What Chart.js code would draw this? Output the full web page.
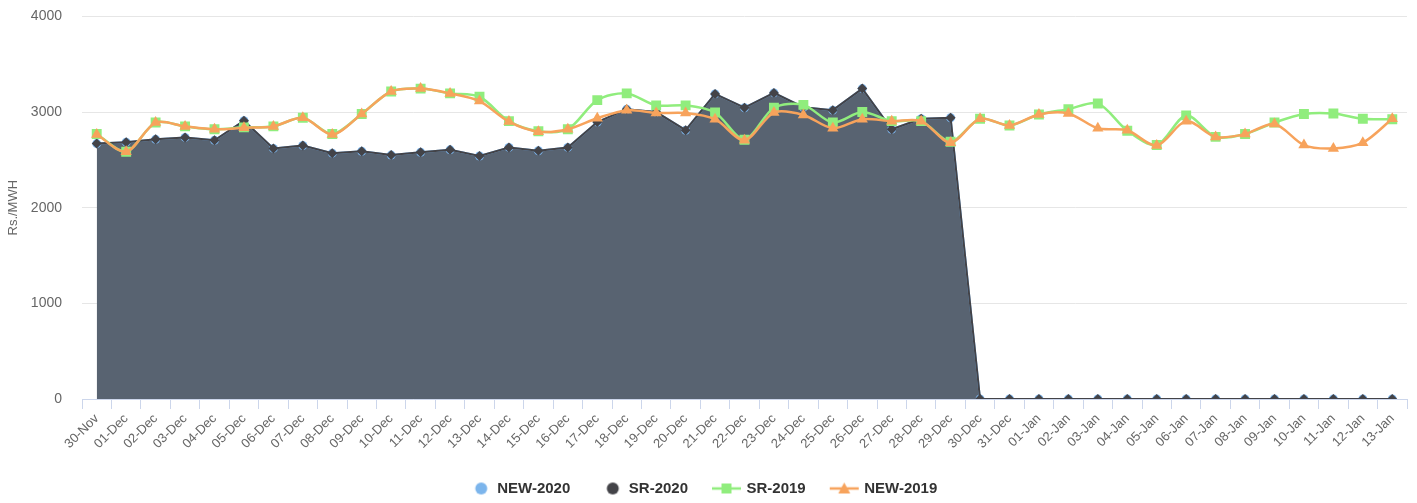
<!DOCTYPE html>
<html>
<head>
<meta charset="utf-8">
<script src="https://cdn.jsdelivr.net/npm/chart.js@4/dist/chart.umd.min.js"></script>
<style>
  html, body { margin: 0; padding: 0; background: #fff; }
  #wrap { width: 1417px; height: 503px; position: relative; }
</style>
</head>
<body>
<div id="wrap"><canvas id="priceChart"></canvas></div>
<script>
const categories = [
  "30-Nov", "01-Dec", "02-Dec", "03-Dec", "04-Dec", "05-Dec", "06-Dec", "07-Dec",
  "08-Dec", "09-Dec", "10-Dec", "11-Dec", "12-Dec", "13-Dec", "14-Dec", "15-Dec",
  "16-Dec", "17-Dec", "18-Dec", "19-Dec", "20-Dec", "21-Dec", "22-Dec", "23-Dec",
  "24-Dec", "25-Dec", "26-Dec", "27-Dec", "28-Dec", "29-Dec", "30-Dec", "31-Dec",
  "01-Jan", "02-Jan", "03-Jan", "04-Jan", "05-Jan", "06-Jan", "07-Jan", "08-Jan",
  "09-Jan", "10-Jan", "11-Jan", "12-Jan", "13-Jan",
];

const new2020 = [
  2670, 2685, 2715, 2735, 2705, 2910, 2620, 2650, 2570, 2590, 2550, 2580, 2605, 2540, 2630,
  2595, 2630, 2895, 3030, 3000, 2810, 3190, 3045, 3200, 3050, 3020, 3245, 2820, 2930, 2940,
  0, 0, 0, 0, 0, 0, 0, 0, 0, 0, 0, 0, 0, 0, 0,
];

const sr2020 = [
  2670, 2685, 2715, 2735, 2705, 2910, 2620, 2650, 2570, 2590, 2550, 2580, 2605, 2540, 2630,
  2595, 2630, 2895, 3030, 3000, 2810, 3190, 3045, 3200, 3050, 3020, 3245, 2820, 2930, 2940,
  0, 0, 0, 0, 0, 0, 0, 0, 0, 0, 0, 0, 0, 0, 0,
];

const sr2019 = [
  2770, 2585, 2890, 2850, 2820, 2840, 2850, 2940, 2770, 2980, 3215, 3245, 3195, 3160, 2905,
  2800, 2820, 3125, 3195, 3070, 3070, 2995, 2710, 3045, 3075, 2890, 3000, 2905, 2905, 2690,
  2930, 2860, 2975, 3030, 3090, 2805, 2655, 2965, 2740, 2770, 2890, 2980, 2985, 2930, 2925,
];

const new2019 = [
  2765, 2585, 2890, 2850, 2820, 2835, 2850, 2940, 2765, 2980, 3215, 3245, 3195, 3115, 2900,
  2795, 2820, 2935, 3020, 2990, 2990, 2925, 2705, 2995, 2970, 2830, 2925, 2905, 2905, 2680,
  2930, 2860, 2975, 2985, 2830, 2810, 2650, 2905, 2740, 2770, 2875, 2655, 2620, 2680, 2930,
];

const yTicks = [0, 1000, 2000, 3000, 4000];

const colors = {
  new2020: "#7cb5ec",
  sr2020: "#434348",
  sr2019: "#90ed7d",
  new2019: "#f7a35c",
  area: "#586371",
};

// legend symbols: circle only, or line with a marker on it
const makeIcon = (color, kind) => {
  const c = document.createElement("canvas");
  c.width = 44;
  c.height = 16;
  const g = c.getContext("2d");
  g.fillStyle = color;
  g.strokeStyle = color;
  if (kind === "circle") {
    g.beginPath();
    g.arc(28.5, 8, 6, 0, Math.PI * 2);
    g.fill();
    return c;
  }
  g.lineWidth = 2.5;
  g.beginPath();
  g.moveTo(10, 8);
  g.lineTo(39, 8);
  g.stroke();
  g.beginPath();
  if (kind === "square") {
    g.rect(19.5, 3, 10, 10);
  } else {
    g.moveTo(24.5, 2);
    g.lineTo(30.5, 13);
    g.lineTo(18.5, 13);
    g.closePath();
  }
  g.fill();
  return c;
};

const icons = [
  makeIcon(colors.new2020, "circle"),
  makeIcon(colors.sr2020, "circle"),
  makeIcon(colors.sr2019, "square"),
  makeIcon(colors.new2019, "triangle"),
];

// nudge the legend row a little to the left
const legendShift = {
  id: "legendShift",
  afterLayout(chart) {
    if (!chart.legend) return;
    chart.legend.left -= 5;
    chart.legend.right -= 5;
  },
};

Chart.defaults.font.family = '"Lucida Grande", "Lucida Sans Unicode", Arial, Helvetica, sans-serif';

new Chart(document.getElementById("priceChart"), {
  type: "line",
  data: {
    labels: categories,
    datasets: [
      {
        label: "NEW-2020",
        data: new2020,
        order: 3,
        borderColor: colors.new2020,
        backgroundColor: colors.area,
        fill: "origin",
        borderWidth: 2,
        pointStyle: "circle",
        pointRadius: 4.5,
        pointBackgroundColor: colors.new2020,
        pointBorderWidth: 0,
        tension: 0,
      },
      {
        label: "SR-2020",
        data: sr2020,
        order: 2,
        borderColor: colors.sr2020,
        backgroundColor: colors.sr2020,
        fill: false,
        borderWidth: 2,
        pointStyle: "rectRot",
        pointRadius: 5,
        pointBackgroundColor: colors.sr2020,
        pointBorderWidth: 0,
        tension: 0,
      },
      {
        label: "SR-2019",
        data: sr2019,
        order: 1,
        borderColor: colors.sr2019,
        backgroundColor: colors.sr2019,
        fill: false,
        borderWidth: 2.5,
        pointStyle: "rect",
        pointRadius: 7,
        pointBackgroundColor: colors.sr2019,
        pointBorderWidth: 0,
        tension: 0.3,
      },
      {
        label: "NEW-2019",
        data: new2019,
        order: 0,
        borderColor: colors.new2019,
        backgroundColor: colors.new2019,
        fill: false,
        borderWidth: 2.5,
        pointStyle: "triangle",
        pointRadius: 6.5,
        pointBackgroundColor: colors.new2019,
        pointBorderWidth: 0,
        tension: 0.3,
      },
    ],
  },
  options: {
    responsive: true,
    maintainAspectRatio: false,
    animation: false,
    layout: { padding: { top: 4, right: 10, bottom: -3, left: 0 } },
    scales: {
      y: {
        min: 0,
        max: 4000,
        afterBuildTicks: (scale) => {
          scale.ticks = yTicks.map((v) => ({ value: v }));
        },
        afterFit: (scale) => {
          scale.width = 82;
        },
        title: {
          display: true,
          text: "Rs./MWH",
          color: "#666666",
          font: { size: 13 },
          padding: { top: 6, bottom: 4 },
        },
        ticks: {
          color: "#666666",
          font: { size: 14 },
          padding: 8,
          callback: (value) => String(value),
        },
        grid: {
          color: "#e6e6e6",
          drawTicks: true,
          tickLength: 12,
          tickColor: "rgba(0,0,0,0)",
        },
        border: { display: false },
      },
      x: {
        offset: true,
        afterFit: (scale) => {
          scale.height = 61;
        },
        ticks: {
          autoSkip: false,
          maxRotation: 45,
          minRotation: 45,
          color: "#666666",
          font: { size: 13 },
          padding: 2,
        },
        grid: {
          offset: true,
          drawOnChartArea: false,
          drawTicks: true,
          tickLength: 10,
          color: "#ccd6eb",
        },
        border: { display: true, color: "#ccd6eb" },
      },
    },
    plugins: {
      tooltip: { enabled: false },
      legend: {
        position: "bottom",
        labels: {
          usePointStyle: true,
          pointStyleWidth: 30,
          padding: 21,
          color: "#333333",
          font: { size: 15, weight: "bold" },
          sort: (a, b) => a.datasetIndex - b.datasetIndex,
          generateLabels: (chart) =>
            Chart.defaults.plugins.legend.labels.generateLabels(chart).map((item) => ({
              ...item,
              pointStyle: icons[item.datasetIndex],
            })),
        },
      },
    },
  },
  plugins: [legendShift],
});
</script>
</body>
</html>
